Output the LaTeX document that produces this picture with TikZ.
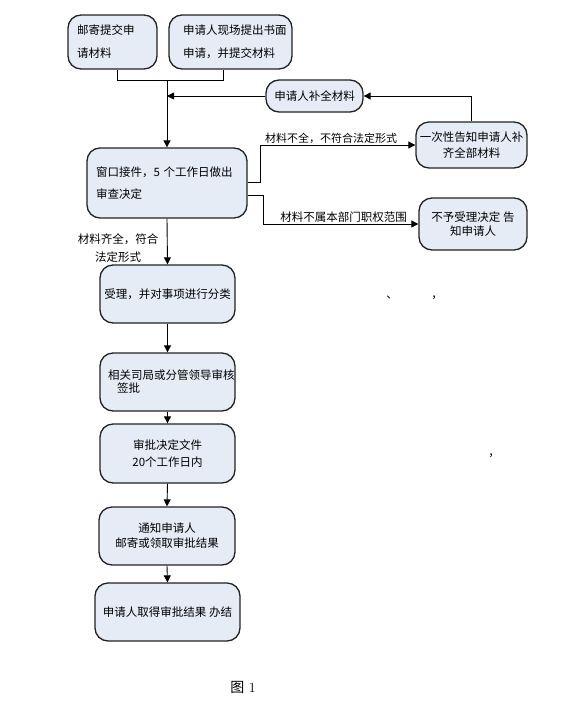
\documentclass[tikz,border=0pt]{standalone}
\usepackage{fontspec}
\newfontfamily\cjk{Noto Sans CJK SC}
\usetikzlibrary{arrows.meta}
\definecolor{boxfill}{HTML}{E6ECF6}
\definecolor{boxline}{HTML}{222222}
\begin{document}
\begin{tikzpicture}[x=1pt,y=-1pt,
  box/.style={draw=boxline, line width=1.3pt, fill=boxfill, rounded corners=13pt,
    inner ysep=0pt, font=\cjk\fontsize{11.5}{14}\selectfont},
  conn/.style={line width=0.9pt, draw=black},
  arr/.style={conn, -{Triangle[length=7pt,width=7pt]}},
  lbl/.style={inner sep=0pt, font=\cjk\fontsize{11.5}{18}\selectfont, align=center},
  stray/.style={inner sep=0pt, font=\cjk\fontsize{11.5}{14}\selectfont}]
\useasboundingbox (0,0) rectangle (562,710);

% boxes
\node[box, minimum width=89pt, minimum height=54pt, text width=71pt, inner xsep=9pt, align=left,
  font=\cjk\fontsize{11.5}{23}\selectfont] (mail) at (112.5,42) {邮寄提交申\\请材料};
\node[box, minimum width=123pt, minimum height=54pt, text width=95pt, inner xsep=14pt, align=left,
  font=\cjk\fontsize{11.5}{23}\selectfont] (onsite) at (230.5,42) {申请人现场提出书面\\申请，并提交材料};
\node[box, minimum width=97pt, minimum height=32pt, align=center] (supp) at (314.5,96) {申请人补全材料};
\node[box, minimum width=111pt, minimum height=46pt, inner xsep=2pt, align=center,
  font=\cjk\fontsize{11.5}{16}\selectfont] (notice) at (471.5,145) {一次性告知申请人补\\齐全部材料};
\node[box, minimum width=108pt, minimum height=52pt, inner xsep=2pt, align=center,
  font=\cjk\fontsize{11.5}{14}\selectfont] (reject) at (473,224) {不予受理决定 告\\知申请人};
\node[box, minimum width=160pt, minimum height=70pt, text width=142pt, inner xsep=9pt, align=left,
  font=\cjk\fontsize{11.5}{22}\selectfont] (window) at (167,183) {窗口接件，5 个工作日做出\\审查决定};
\node[box, minimum width=135pt, minimum height=58pt, inner xsep=2pt, align=center] (accept) at (167.5,294) {受理，并对事项进行分类};
\node[box, minimum width=135pt, minimum height=58pt, text width=119pt, inner xsep=8pt, align=left,
  font=\cjk\fontsize{11.5}{13}\selectfont] (review) at (167.5,382) {相关司局或分管领导审核\\\hspace*{9pt}签批};
\node[box, minimum width=135pt, minimum height=59pt, align=center,
  font=\cjk\fontsize{11.5}{17}\selectfont] (decision) at (167.5,453.5) {审批决定文件\\20个工作日内};
\node[box, minimum width=136pt, minimum height=58pt, align=center,
  font=\cjk\fontsize{11.5}{15}\selectfont] (notify) at (167,536) {通知申请人\\邮寄或领取审批结果};
\node[box, minimum width=145pt, minimum height=58pt, align=center] (final) at (167.5,612) {申请人取得审批结果 办结};

% junction coordinates
\coordinate (j1) at (117,80);
\coordinate (j2) at (223,80);
\coordinate (jm) at (167,80);
\coordinate (b1) at (260,182);
\coordinate (b2) at (263,195);

% connectors
\draw[conn] (mail.south -| j1) -- (j1) -- (j2) -- (onsite.south -| j2);
\draw[arr] (jm) -- (window.north);
\draw[arr] (supp.west) -- (supp.west -| jm);
\draw[arr] (notice.north) |- (supp.east);
\draw[arr] (window.east |- b1) -- (b1) |- (notice.west);
\draw[arr] (window.east |- b2) -- (b2) |- (reject.west);
\draw[arr] (window.south) -- (accept.north);
\draw[arr] (accept.south) -- (review.north);
\draw[arr] (review.south) -- (decision.north);
\draw[arr] (decision.south) -- (notify.north);
\draw[arr] (notify.south) -- (final.north);

% labels
\node[lbl, font=\cjk\fontsize{11}{14}\selectfont] (l1) at (331,138) {材料不全，不符合法定形式};
\node[lbl] (l2) at (343.5,217) {材料不属本部门职权范围};
\node[lbl] (l3) at (118,248) {材料齐全，符合\\法定形式};

% stray marks
\node[stray] (s1) at (392,298) {、};
\node[stray] (s2) at (437,298) {，};
\node[stray] (s3) at (494,456) {，};

% caption
\node[inner sep=0pt, font=\fontsize{14}{16}\selectfont] (cap) at (243,687) {{\cjk 图} 1};
\end{tikzpicture}
\end{document}
